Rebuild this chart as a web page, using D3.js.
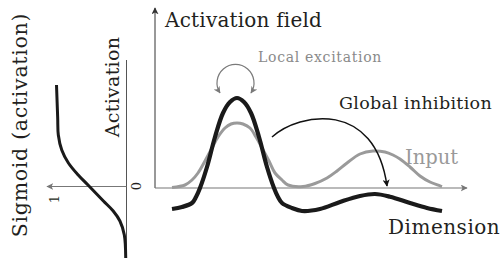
<!DOCTYPE html>
<html>
<head>
<meta charset="utf-8">
<script src="https://cdn.jsdelivr.net/npm/d3@7"></script>
<style>
  body { margin: 0; background: #fff; }
  text { font-family: "DejaVu Serif", serif; fill: #231f20; }
</style>
</head>
<body>
<div id="chart"></div>
<script>
// Input (gray) along the dimension, arbitrary units
var inputDim = [0, 13, 20, 26, 33, 40, 46, 53, 59, 65, 71, 78, 84, 90, 97, 103, 110, 116, 131, 143, 155, 165, 175, 188, 201, 213, 221, 228, 238, 248, 258, 270];
var inputVal = [0.05, 0.3, 0.8, 1.5, 2.7, 4.0, 5.1, 6.0, 6.4, 6.5, 6.4, 6.0, 5.1, 4.0, 2.7, 1.5, 0.8, 0.3, 0.15, 0.45, 1.0, 1.7, 2.5, 3.4, 3.7, 3.6, 3.3, 2.9, 2.1, 1.2, 0.6, 0.15];

// Activation field (black)
var fieldDim = [0, 10, 20, 24, 28, 35, 43, 51, 58, 65, 72, 79, 87, 95, 102, 106, 110, 120, 130, 148, 168, 188, 203, 218, 238, 255, 270];
var fieldVal = [-2.1, -1.9, -1.5, -0.9, 0, 2.1, 5.1, 7.5, 8.6, 9.0, 8.6, 7.5, 5.1, 2.1, 0, -0.9, -1.5, -2.0, -2.3, -2.1, -1.4, -0.8, -0.6, -0.87, -1.5, -2.0, -2.3];

// Sigmoid of activation
var sigAct = [10.3, 7.0, 5.3, 3.8, 2.5, 1.3, 0.3, -1.3, -2.3, -3.3, -4.7, -7.0];
var sigOut = [1.0, 0.983, 0.974, 0.925, 0.83, 0.69, 0.55, 0.33, 0.19, 0.094, 0.031, 0.011];

var W = 504, H = 258;
var svg = d3.select("#chart").append("svg").attr("width", W).attr("height", H);

var x = d3.scaleLinear().domain([0, 270]).range([172, 442]);
var y = d3.scaleLinear().domain([-7, 18]).range([258, 8]);
var s = d3.scaleLinear().domain([0, 1]).range([126.5, 56.5]);

// arrow heads
var defs = svg.append("defs");
[["dark", "#333"], ["gray", "#777"], ["black", "#111"], ["lgray", "#7a7a7a"]].forEach(function (m) {
  defs.append("marker")
    .attr("id", "arr-" + m[0])
    .attr("viewBox", "0 0 10 10")
    .attr("refX", 9).attr("refY", 5)
    .attr("markerWidth", 7).attr("markerHeight", 7)
    .attr("markerUnits", "userSpaceOnUse")
    .attr("orient", "auto-start-reverse")
    .append("path")
    .attr("d", "M0,0 L10,5 L0,10 L2.5,5 z")
    .attr("fill", m[1]);
});

// main axes
svg.append("line")
  .attr("x1", 155).attr("y1", y(0)).attr("x2", 155).attr("y2", 8)
  .attr("stroke", "#333").attr("stroke-width", 1)
  .attr("marker-end", "url(#arr-dark)");
svg.append("line")
  .attr("x1", 155).attr("y1", y(0)).attr("x2", 467).attr("y2", y(0))
  .attr("stroke", "#777").attr("stroke-width", 1.2)
  .attr("marker-end", "url(#arr-gray)");

// sigmoid panel axes
svg.append("line")
  .attr("x1", s(0)).attr("y1", 60).attr("x2", s(0)).attr("y2", H)
  .attr("stroke", "#555").attr("stroke-width", 1);
svg.append("line")
  .attr("x1", s(0)).attr("y1", y(0) - 1.5).attr("x2", 47).attr("y2", y(0) - 1.5)
  .attr("stroke", "#777").attr("stroke-width", 1.2)
  .attr("marker-end", "url(#arr-gray)");

// curves
var line = d3.line().curve(d3.curveCatmullRom);

svg.append("path")
  .attr("d", line(inputDim.map(function (d, i) { return [x(d), y(inputVal[i])]; })))
  .attr("fill", "none").attr("stroke", "#9a9a9a").attr("stroke-width", 3);

svg.append("path")
  .attr("d", line(fieldDim.map(function (d, i) { return [x(d), y(fieldVal[i])]; })))
  .attr("fill", "none").attr("stroke", "#1a1a1a").attr("stroke-width", 4.2);

svg.append("path")
  .attr("d", line(sigAct.map(function (a, i) { return [s(sigOut[i]), y(a)]; })))
  .attr("fill", "none").attr("stroke", "#1a1a1a").attr("stroke-width", 3);

// local excitation loop over the peak
var px = x(65);
svg.append("path")
  .attr("d", "M" + (px - 17) + ",93 A18.5,18.5 0 1,1 " + (px + 14) + ",93")
  .attr("fill", "none").attr("stroke", "#7a7a7a").attr("stroke-width", 1.2)
  .attr("marker-start", "url(#arr-lgray)")
  .attr("marker-end", "url(#arr-lgray)");

// global inhibition arrow
svg.append("path")
  .attr("d", "M272,137 C300,112 375,100 387,186")
  .attr("fill", "none").attr("stroke", "#111").attr("stroke-width", 1.5)
  .attr("marker-end", "url(#arr-black)");

// labels
svg.append("text").attr("x", 165).attr("y", 27)
  .style("font-size", "20px").style("letter-spacing", "0.2px").text("Activation field");
svg.append("text").attr("x", 258).attr("y", 62)
  .style("font-size", "14px").style("letter-spacing", "0.7px")
  .style("fill", "#8a8a8a").text("Local excitation");
svg.append("text").attr("x", 339).attr("y", 109)
  .style("font-size", "17.5px").style("letter-spacing", "0.3px").text("Global inhibition");
svg.append("text").attr("x", 405).attr("y", 164)
  .style("font-size", "19.5px").style("fill", "#999").text("Input");
svg.append("text").attr("x", 388).attr("y", 234)
  .style("font-size", "20px").style("letter-spacing", "0.5px").text("Dimension");

svg.append("text")
  .attr("transform", "translate(119,87) rotate(-90)")
  .attr("text-anchor", "middle")
  .style("font-size", "19px").style("letter-spacing", "0.3px").text("Activation");
svg.append("text")
  .attr("transform", "translate(27,125) rotate(-90)")
  .attr("text-anchor", "middle")
  .style("font-size", "20.5px").style("letter-spacing", "0.7px").text("Sigmoid (activation)");
svg.append("text")
  .attr("transform", "translate(141,186) rotate(-90)")
  .attr("text-anchor", "middle")
  .style("font-size", "13px").text("0");
svg.append("text")
  .attr("transform", "translate(59,199) rotate(-90)")
  .attr("text-anchor", "middle")
  .style("font-size", "13px").text("1");
</script>
</body>
</html>
